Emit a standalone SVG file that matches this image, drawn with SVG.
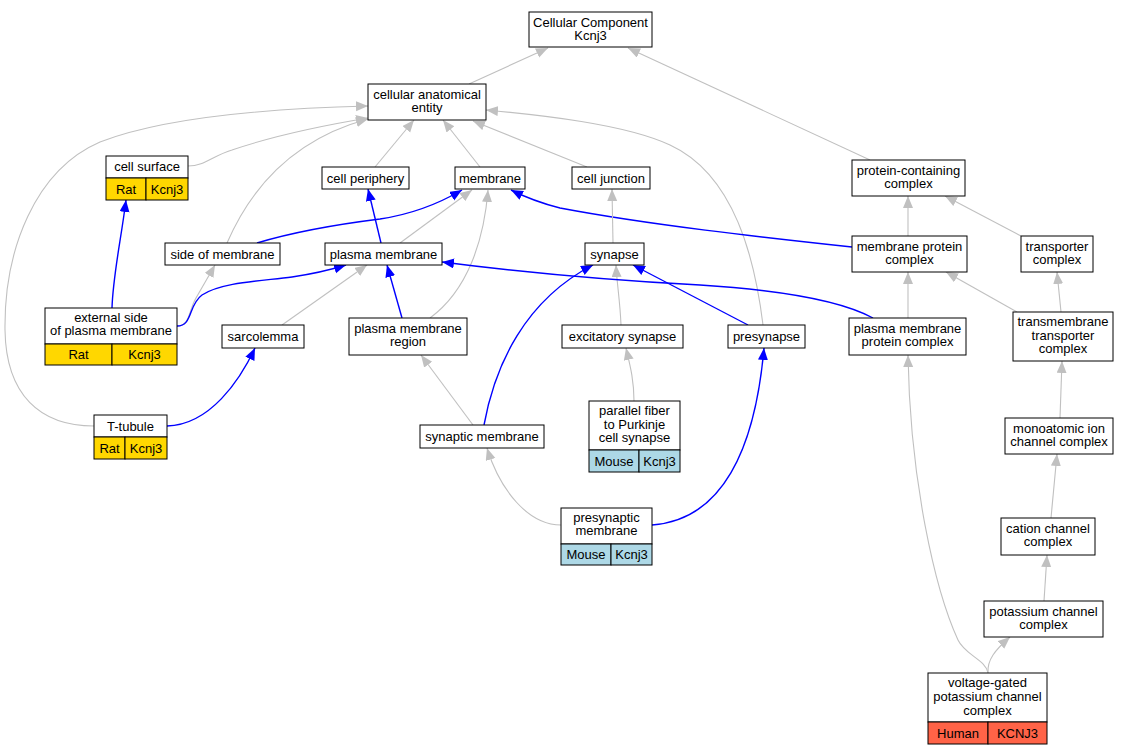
<svg xmlns="http://www.w3.org/2000/svg" width="1129" height="755" viewBox="0 0 1129 755">
<style>
.n rect{fill:#fff;stroke:#000;stroke-width:1}
.n rect.rat{fill:#FFD700}
.n rect.mouse{fill:#ADD8E6}
.n rect.human{fill:#FF6347}
text{font-family:"Liberation Sans",Arial,sans-serif;font-size:13px;fill:#000;text-anchor:middle}
.g{fill:none;stroke:#C0C0C0;stroke-width:1.1;marker-end:url(#ag)}
.b{fill:none;stroke:#0000FF;stroke-width:1.4;marker-end:url(#ab)}
</style>
<defs>
<marker id="ag" markerUnits="userSpaceOnUse" markerWidth="13" markerHeight="11" refX="12" refY="5" orient="auto"><path d="M0,0 L12,5 L0,10 z" fill="#C0C0C0"/></marker>
<marker id="ab" markerUnits="userSpaceOnUse" markerWidth="13" markerHeight="11" refX="12" refY="5" orient="auto"><path d="M0,0 L12,5 L0,10 z" fill="#0000FF"/></marker>
</defs>
<rect width="1129" height="755" fill="#fff"/>
<g id="edges">
<path class="g" d="M469,84 L548,48"/>
<path class="g" d="M870,160 L628,48"/>
<path class="g" d="M188,166 C205,166 212,156 232,150 C270,137 320,126 368,118"/>
<path class="g" d="M94,426 C40,426 6,395 5,330 C4,250 35,170 100,142 C170,115 290,108 368,106"/>
<path class="g" d="M227,243 C250,190 290,140 368,119"/>
<path class="g" d="M375,167 L414,120"/>
<path class="g" d="M480,167 L443,120"/>
<path class="g" d="M587,167 L473,121"/>
<path class="g" d="M763,325 C755,260 735,175 670,145 C625,124 540,115 486,110"/>
<path class="g" d="M400,243 L472,190"/>
<path class="b" d="M257,243 C300,230 340,224 380,219 C420,213 445,200 462,190"/>
<path class="g" d="M430,318 C468,290 484,240 488,190"/>
<path class="b" d="M852,247 C760,237 650,225 560,208 C540,203 525,197 511,190"/>
<path class="b" d="M381,243 L368,189"/>
<path class="b" d="M112,308 C113,275 121,240 126,200"/>
<path class="g" d="M177,326 C190,326 188,312 196,298 L215,265"/>
<path class="b" d="M177,326 C193,326 188,305 202,295 C222,282 262,281 292,277 C312,274 330,270 346,265"/>
<path class="g" d="M282,325 L367,265"/>
<path class="b" d="M402,318 L387,265"/>
<path class="b" d="M167,426 C210,425 240,380 255,348"/>
<path class="b" d="M484,425 C495,365 525,300 593,265"/>
<path class="g" d="M473,425 L421,355"/>
<path class="g" d="M561,525 C528,525 500,490 487,448"/>
<path class="b" d="M652,525 C722,520 755,450 764,348"/>
<path class="g" d="M621,325 C620,300 617,285 616,265"/>
<path class="g" d="M634,401 C634,380 630,365 626,348"/>
<path class="g" d="M613,243 L612,189"/>
<path class="b" d="M748,325 L633,265"/>
<path class="b" d="M873,318 C840,300 780,290 700,285 C620,281 520,272 442,262"/>
<path class="g" d="M908,236 L908,196"/>
<path class="g" d="M1021,236 L945,196"/>
<path class="g" d="M908,318 L908,272"/>
<path class="g" d="M1017,312 L946,272"/>
<path class="g" d="M1061,312 L1057,272"/>
<path class="g" d="M1060,418 L1062,361"/>
<path class="g" d="M1051,518 L1057,454"/>
<path class="g" d="M1044,601 L1047,555"/>
<path class="g" d="M988,673 C987,660 995,650 1010,637"/>
<path class="g" d="M988,673 C986,660 965,655 958,640 C935,590 910,480 908,355"/>
</g>
<g id="n_top" class="n"><rect x="529" y="12" width="123" height="35"/><text x="590.5" y="27">Cellular Component</text><text x="590.5" y="40">Kcnj3</text></g>
<g id="n_cae" class="n"><rect x="368" y="84" width="118" height="36"/><text x="427" y="99">cellular anatomical</text><text x="427" y="112">entity</text></g>
<g id="n_cellsurface" class="n"><rect x="106" y="156" width="82" height="22"/><rect class="rat" x="106" y="178" width="40" height="22"/><rect class="rat" x="146" y="178" width="42" height="22"/><text x="147" y="171">cell surface</text><text x="126" y="193.5">Rat</text><text x="167" y="193.5">Kcnj3</text></g>
<g id="n_cellperiphery" class="n"><rect x="322" y="167" width="87" height="22"/><text x="365.5" y="182.5">cell periphery</text></g>
<g id="n_membrane" class="n"><rect x="455" y="167" width="70" height="22"/><text x="490" y="182.5">membrane</text></g>
<g id="n_celljunction" class="n"><rect x="572" y="167" width="78" height="22"/><text x="611" y="182.5">cell junction</text></g>
<g id="n_pcc" class="n"><rect x="852" y="160" width="113" height="36"/><text x="908.5" y="175">protein-containing</text><text x="908.5" y="188">complex</text></g>
<g id="n_sideofmembrane" class="n"><rect x="165" y="243" width="115" height="22"/><text x="222.5" y="258.5">side of membrane</text></g>
<g id="n_plasmamembrane" class="n"><rect x="325" y="243" width="117" height="22"/><text x="383.5" y="258.5">plasma membrane</text></g>
<g id="n_synapse" class="n"><rect x="585" y="243" width="59" height="22"/><text x="614.5" y="258.5">synapse</text></g>
<g id="n_mpc" class="n"><rect x="852" y="236" width="115" height="36"/><text x="909.5" y="251">membrane protein</text><text x="909.5" y="264">complex</text></g>
<g id="n_transporter" class="n"><rect x="1021" y="236" width="72" height="36"/><text x="1057" y="251">transporter</text><text x="1057" y="264">complex</text></g>
<g id="n_externalside" class="n"><rect x="45" y="308" width="132" height="36"/><rect class="rat" x="45" y="344" width="67" height="21"/><rect class="rat" x="112" y="344" width="65" height="21"/><text x="111" y="322">external side</text><text x="111" y="335">of plasma membrane</text><text x="78.5" y="359">Rat</text><text x="144.5" y="359">Kcnj3</text></g>
<g id="n_sarcolemma" class="n"><rect x="222" y="325" width="82" height="23"/><text x="263" y="341">sarcolemma</text></g>
<g id="n_pmregion" class="n"><rect x="349" y="318" width="118" height="37"/><text x="408" y="333">plasma membrane</text><text x="408" y="346">region</text></g>
<g id="n_excitatory" class="n"><rect x="562" y="325" width="121" height="23"/><text x="622.5" y="341">excitatory synapse</text></g>
<g id="n_presynapse" class="n"><rect x="728" y="325" width="77" height="23"/><text x="766.5" y="341">presynapse</text></g>
<g id="n_pmpc" class="n"><rect x="849" y="318" width="117" height="37"/><text x="907.5" y="333">plasma membrane</text><text x="907.5" y="346">protein complex</text></g>
<g id="n_transmembrane" class="n"><rect x="1013" y="312" width="100" height="49"/><text x="1063" y="326">transmembrane</text><text x="1063" y="339.5">transporter</text><text x="1063" y="353">complex</text></g>
<g id="n_ttubule" class="n"><rect x="94" y="415" width="73" height="22"/><rect class="rat" x="94" y="437" width="31" height="22"/><rect class="rat" x="125" y="437" width="42" height="22"/><text x="130.5" y="430.5">T-tubule</text><text x="109.5" y="452.5">Rat</text><text x="146" y="452.5">Kcnj3</text></g>
<g id="n_synapticmembrane" class="n"><rect x="420" y="425" width="124" height="23"/><text x="482" y="441">synaptic membrane</text></g>
<g id="n_parallelfiber" class="n"><rect x="589" y="401" width="91" height="49"/><rect class="mouse" x="589" y="450" width="50" height="22"/><rect class="mouse" x="639" y="450" width="41" height="22"/><text x="634.5" y="415">parallel fiber</text><text x="634.5" y="428.5">to Purkinje</text><text x="634.5" y="442">cell synapse</text><text x="614" y="465.5">Mouse</text><text x="659.5" y="465.5">Kcnj3</text></g>
<g id="n_monoatomic" class="n"><rect x="1005" y="418" width="108" height="36"/><text x="1059" y="433">monoatomic ion</text><text x="1059" y="446">channel complex</text></g>
<g id="n_presynapticmembrane" class="n"><rect x="561" y="508" width="91" height="36"/><rect class="mouse" x="561" y="544" width="50" height="21"/><rect class="mouse" x="611" y="544" width="41" height="21"/><text x="606.5" y="522">presynaptic</text><text x="606.5" y="535">membrane</text><text x="586" y="559">Mouse</text><text x="631.5" y="559">Kcnj3</text></g>
<g id="n_cation" class="n"><rect x="1001" y="518" width="94" height="37"/><text x="1048" y="533">cation channel</text><text x="1048" y="546">complex</text></g>
<g id="n_potassium" class="n"><rect x="984" y="601" width="119" height="36"/><text x="1043.5" y="616">potassium channel</text><text x="1043.5" y="629">complex</text></g>
<g id="n_voltagegated" class="n"><rect x="928" y="673" width="119" height="49"/><rect class="human" x="928" y="722" width="60" height="22"/><rect class="human" x="988" y="722" width="59" height="22"/><text x="987.5" y="687">voltage-gated</text><text x="987.5" y="701">potassium channel</text><text x="987.5" y="714.5">complex</text><text x="958" y="737.5">Human</text><text x="1017.5" y="737.5">KCNJ3</text></g>
</svg>
